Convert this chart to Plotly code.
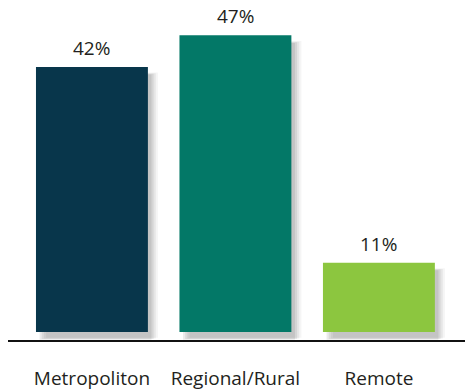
import plotly.graph_objects as go

categories = ["Metropoliton", "Regional/Rural", "Remote"]
values = [42, 47, 11]
labels = ["42%", "47%", "11%"]
colors = ["#08364b", "#037867", "#8cc63f"]

fig = go.Figure()

# soft drop shadows (layered translucent bars offset right/down)
for i, (dx, op) in enumerate([(0.07, 0.04), (0.055, 0.06), (0.04, 0.07), (0.025, 0.08)]):
    fig.add_trace(go.Bar(
        x=categories, y=values, width=0.78, offset=-0.39 + dx,
        base=[-0.9 - i * 0.1] * 3,
        marker=dict(color=f"rgba(0,0,0,{op})", line=dict(width=0)),
        hoverinfo="skip", showlegend=False,
    ))

fig.add_trace(go.Bar(
    x=categories, y=values, width=0.78,
    marker=dict(color=colors, line=dict(width=0)),
    showlegend=False,
))

for c, v, t in zip(categories, values, labels):
    fig.add_annotation(x=c, y=v, text=t, showarrow=False, yanchor="bottom",
                       yshift=4, font=dict(family="Open Sans", size=19, color="#231f20"))

fig.update_layout(
    width=465, height=390,
    margin=dict(l=8, r=0, t=0, b=50),
    paper_bgcolor="white", plot_bgcolor="white",
    barmode="overlay",
    xaxis=dict(range=[-0.585, 2.6], showline=True, linecolor="#111", linewidth=2,
               ticks="", showgrid=False, ticklabelstandoff=20,
               tickfont=dict(family="Open Sans", size=19, color="#231f20")),
    yaxis=dict(range=[-1.25, 52.6], visible=False, showgrid=False, zeroline=False),
)

fig.write_html("out.html")
